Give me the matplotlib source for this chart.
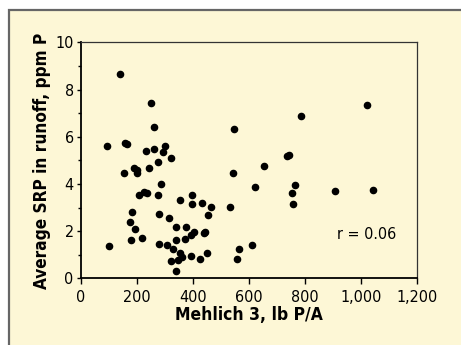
import matplotlib.pyplot as plt
import matplotlib.patches as patches
from matplotlib.ticker import MultipleLocator, FuncFormatter

# Data
mehlich = [140, 250, 262, 93, 158, 167, 232, 261, 302, 294, 324, 277, 245, 190,
           200, 200, 154, 286, 226, 236, 207, 276, 399, 355, 399, 433, 465, 455,
           185, 281, 315, 177, 195, 340, 376, 405, 394, 440, 443, 372, 342, 179,
           219, 102, 281, 310, 331, 355, 362, 349, 323, 394, 427, 450, 339, 548,
           543, 533, 558, 565, 612, 621, 655, 736, 745, 787, 767, 756, 758, 908,
           1021, 1044]
srp = [8.66, 7.44, 6.43, 5.61, 5.72, 5.69, 5.41, 5.47, 5.61, 5.35, 5.10, 4.93,
       4.70, 4.70, 4.59, 4.45, 4.48, 4.00, 3.66, 3.63, 3.52, 3.55, 3.55, 3.32,
       3.15, 3.18, 3.01, 2.67, 2.82, 2.75, 2.58, 2.40, 2.10, 2.19, 2.19, 1.96,
       1.85, 1.92, 1.97, 1.68, 1.62, 1.64, 1.71, 1.37, 1.45, 1.43, 1.26, 1.06,
       0.89, 0.78, 0.72, 0.95, 0.81, 1.06, 0.32, 6.34, 4.45, 3.01, 0.81, 1.26,
       1.43, 3.88, 4.76, 5.18, 5.21, 6.88, 3.94, 3.63, 3.15, 3.71, 7.33, 3.74]

cream = '#fdf7d6'
plt.rcParams['font.family'] = ['DejaVu Sans']
plt.rcParams['font.stretch'] = 'condensed'

fig = plt.figure(figsize=(4.61, 3.45), dpi=100)
fig.patch.set_facecolor('white')
bg = patches.Rectangle((9 / 461, -0.1), 1.2, 1.1 - 10 / 345,
                       transform=fig.transFigure, facecolor=cream,
                       edgecolor='#666666', linewidth=1.6, zorder=-10)
fig.patches.append(bg)

ax = fig.add_axes([0.175, 0.193, 0.729, 0.684])
ax.set_facecolor(cream)
ax.scatter(mehlich, srp, s=20, color='black', zorder=3)

ax.set_xlim(0, 1200)
ax.set_ylim(0, 10)
ax.xaxis.set_major_locator(MultipleLocator(200))
ax.yaxis.set_major_locator(MultipleLocator(2))
ax.yaxis.set_minor_locator(MultipleLocator(1))
ax.xaxis.set_major_formatter(FuncFormatter(lambda v, p: f'{int(v):,}'))

for side in ['left', 'bottom']:
    ax.spines[side].set_linewidth(1.3)
for side in ['top', 'right']:
    ax.spines[side].set_linewidth(0.9)
    ax.spines[side].set_color('#333333')

ax.tick_params(axis='x', which='major', length=4, width=1, labelsize=11.5, pad=4)
ax.tick_params(axis='y', which='major', length=3, width=1, labelsize=11.5, pad=2)
ax.tick_params(axis='y', which='minor', length=2.2, width=1)

ax.set_xlabel('Mehlich 3, lb P/A', fontsize=12.5, fontweight='bold', labelpad=1)
ax.set_ylabel('Average SRP in runoff, ppm P', fontsize=12.3, fontweight='bold', labelpad=3)

ax.text(1021, 1.84, 'r = 0.06', fontsize=11.5, ha='center', va='center')

fig.savefig('out.png', dpi=100, facecolor=fig.get_facecolor())
